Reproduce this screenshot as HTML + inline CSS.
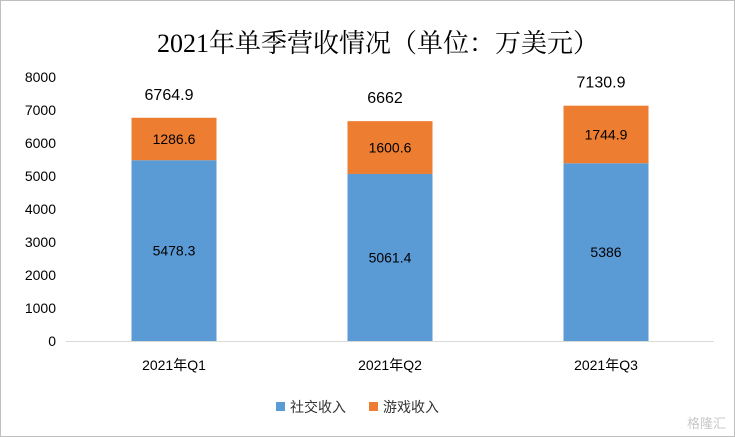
<!DOCTYPE html>
<html><head><meta charset="utf-8"><style>
body{margin:0;background:#fff}
svg{display:block}
text{font-family:"Liberation Sans","Noto Sans CJK SC",sans-serif}
</style></head><body>
<svg id="c" width="735" height="437">
<rect x="0.5" y="0.5" width="734" height="436" fill="#fff" stroke="#bfbfbf"/>
<text x="378" y="52" text-anchor="middle" font-size="26" fill="#000" style="font-family:'Liberation Serif','Noto Serif CJK SC',serif">2021年单季营收情况（单位：万美元）</text>
<g id="plot"></g>
<g>
<rect x="276" y="402" width="9" height="9" fill="#5b9bd5"/>
<text x="290" y="412" font-size="14" fill="#333">社交收入</text>
<rect x="369" y="402" width="9" height="9" fill="#ed7d31"/>
<text x="383" y="412" font-size="14" fill="#333">游戏收入</text>
</g>
<text x="726" y="428" text-anchor="end" font-size="13" fill="#c8c8c8">格隆汇</text>
</svg>
<script>
const categories=["2021年Q1","2021年Q2","2021年Q3"];
const social=[5478.3,5061.4,5386];
const game=[1286.6,1600.6,1744.9];
const totals=["6764.9","6662","7130.9"];
const ticks=[0,1000,2000,3000,4000,5000,6000,7000,8000];
const NS="http://www.w3.org/2000/svg";
const g=document.getElementById('plot');
const L=66,R=714,B=341,T=77,MAX=8000;
const y=v=>B-(v/MAX)*(B-T);
const cw=(R-L)/categories.length;
const x=i=>L+cw*(i+0.5);
function mk(t,a,txt){const e=document.createElementNS(NS,t);for(const k in a)e.setAttribute(k,a[k]);if(txt!=null)e.textContent=txt;g.appendChild(e);return e;}
ticks.forEach(t=>{
 const e=mk('text',{x:56,y:y(t)+5,'text-anchor':'end','font-size':14,fill:'#000'},t);
 
 
});
const ax=mk('line',{x1:L,x2:R,y1:B+0.5,y2:B+0.5,stroke:'#d9d9d9'});


const bw=85;
categories.forEach((c,i)=>{
 const cx=x(i);
 const b1=mk('rect',{x:cx-bw/2,y:y(social[i]),width:bw,height:B-y(social[i]),fill:'#5b9bd5'});
 
 
 const top=social[i]+game[i];
 const b2=mk('rect',{x:cx-bw/2,y:y(top),width:bw,height:y(social[i])-y(top),fill:'#ed7d31'});
 
 
 const l1=mk('text',{x:cx,y:(y(social[i])+B)/2+5,'text-anchor':'middle','font-size':14,fill:'#000'},social[i]);
 
 
 const l2=mk('text',{x:cx,y:(y(top)+y(social[i]))/2+5,'text-anchor':'middle','font-size':14,fill:'#000'},game[i]);
 
 
 const l3=mk('text',{x:cx-5,y:y(top)-18,'text-anchor':'middle','font-size':16,fill:'#000'},totals[i]);
 
 
 const xl=mk('text',{x:cx,y:370,'text-anchor':'middle','font-size':14,fill:'#000'},c);
 
 
});
</script>
</body></html>
